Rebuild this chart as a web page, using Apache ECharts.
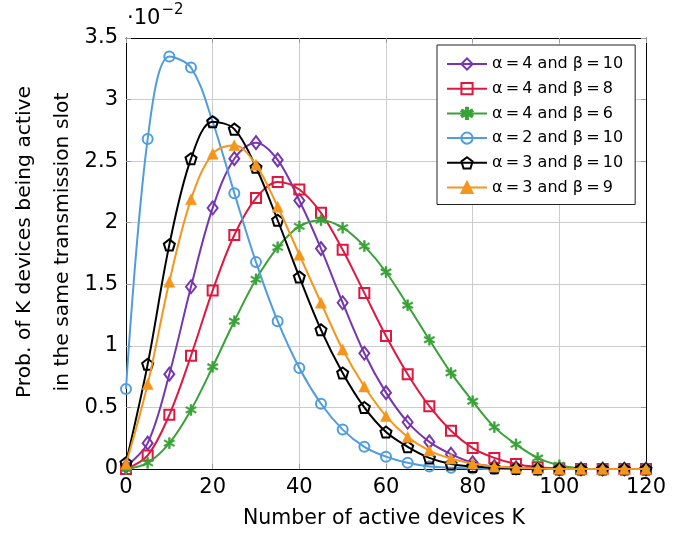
<!DOCTYPE html>
<html>
<head>
<meta charset="utf-8">
<script src="https://cdn.jsdelivr.net/npm/echarts@6/dist/echarts.min.js"></script>
<style>html,body{margin:0;padding:0;background:#fff;}#c{width:686px;height:533px;}</style>
</head>
<body>
<div id="c"></div>
<script>
// ---- data (values in units of 1e-2) ----
var kValues = [0,5,10,15,20,25,30,35,40,45,50,55,60,65,70,75,80,85,90,95,100,105,110,115,120];
var xTicks = [0,20,40,60,80,100,120];
var yTicks = [0,0.5,1,1.5,2,2.5,3,3.5];
var seriesNames = ['α\u2009=\u20094 and β\u2009=\u200910','α\u2009=\u20094 and β\u2009=\u20098','α\u2009=\u20094 and β\u2009=\u20096','α\u2009=\u20092 and β\u2009=\u200910','α\u2009=\u20093 and β\u2009=\u200910','α\u2009=\u20093 and β\u2009=\u20099'];
var a4b10 = [0.02,0.21,0.77,1.48,2.12,2.52,2.65,2.51,2.18,1.79,1.35,0.94,0.62,0.38,0.22,0.12,0.05,0.02,0.01,0.005,0,0,0,0,0];
var a4b8  = [0.0,0.11,0.44,0.92,1.45,1.90,2.20,2.33,2.27,2.08,1.78,1.43,1.08,0.77,0.51,0.31,0.17,0.09,0.04,0.015,0.005,0,0,0,0];
var a4b6  = [0.0,0.05,0.21,0.48,0.83,1.20,1.54,1.80,1.97,2.02,1.96,1.81,1.60,1.33,1.05,0.78,0.55,0.34,0.20,0.09,0.03,0.005,0,0,0];
var a2b10 = [0.65,2.68,3.35,3.26,2.82,2.24,1.68,1.20,0.82,0.53,0.32,0.18,0.10,0.05,0.02,0.01,0.005,0,0,0,0,0,0,0,0];
var a3b10 = [0.05,0.85,1.82,2.52,2.82,2.76,2.45,2.02,1.56,1.13,0.78,0.50,0.30,0.18,0.09,0.04,0.02,0.01,0.005,0,0,0,0,0,0];
var a3b9  = [0.04,0.69,1.52,2.19,2.56,2.63,2.47,2.13,1.74,1.35,0.97,0.67,0.43,0.26,0.15,0.085,0.045,0.02,0.01,0.005,0,0,0,0,0];

var allValues = [a4b10,a4b8,a4b6,a2b10,a3b10,a3b9];
var colors = ['#7636b0','#e0173f','#38a236','#4f9ddf','#000000','#f5961c'];
var pentagon = 'path://M0,-1 L0.951,-0.309 L0.588,0.809 L-0.588,0.809 L-0.951,-0.309 Z';
var asterisk = 'path://M-0.16,-1 L0.16,-1 L0.16,1 L-0.16,1 Z ' +
  'M-0.941,-0.37 L-0.791,-0.63 L0.941,0.37 L0.791,0.63 Z ' +
  'M0.791,-0.63 L0.941,-0.37 L-0.791,0.63 L-0.941,0.37 Z';
var symbols = ['diamond','rect','asterisk','circle',pentagon,'triangle'];
var sizes = [[10,13],10,11,10,11,11];

var chart = echarts.init(document.getElementById('c'), null, {renderer:'canvas'});
var FONT = 'DejaVu Sans';

var series = allValues.map(function(vals, i){
  var hollow = (i === 0 || i === 1 || i === 3 || i === 4);
  var sym = symbols[i] === 'asterisk' ? asterisk : symbols[i];
  return {
    name: seriesNames[i],
    type: 'line',
    data: kValues.map(function(k, j){ return [k, vals[j]]; }),
    smooth: 0.35,
    clip: false,
    symbol: sym,
    symbolSize: sizes[i],
    showAllSymbol: true,
    lineStyle: {color: colors[i], width: 2},
    itemStyle: hollow ? {color: 'rgba(255,255,255,0)', borderColor: colors[i], borderWidth: 2}
                      : {color: colors[i], borderColor: colors[i], borderWidth: 0.5},
    emphasis: {disabled: true},
    z: 2 + i
  };
});

var axisCommon = {
  axisLine: {show: true, onZero: false, lineStyle: {color: '#000', width: 1}},
  axisTick: {show: true, inside: true, length: 5, lineStyle: {color: '#999'}},
  splitLine: {show: true, lineStyle: {color: '#cccccc', width: 1}}
};

var option = {
  animation: false,
  backgroundColor: '#fff',
  textStyle: {fontFamily: FONT},
  grid: {left: 126, right: 40, top: 38, bottom: 64, containLabel: false},
  xAxis: [
    Object.assign({type: 'value', min: xTicks[0], max: xTicks[xTicks.length-1], interval: 20, position: 'bottom',
      axisLabel: {fontFamily: FONT, fontSize: 21, color: '#000', margin: 8}}, axisCommon),
    Object.assign({type: 'value', min: xTicks[0], max: xTicks[xTicks.length-1], interval: 20, position: 'top',
      axisLabel: {show: false}}, axisCommon, {splitLine: {show: false}})
  ],
  yAxis: [
    Object.assign({type: 'value', min: yTicks[0], max: yTicks[yTicks.length-1], interval: 0.5, position: 'left',
      axisLabel: {fontFamily: FONT, fontSize: 21, color: '#000', margin: 8}}, axisCommon),
    Object.assign({type: 'value', min: yTicks[0], max: yTicks[yTicks.length-1], interval: 0.5, position: 'right',
      axisLabel: {show: false}}, axisCommon, {splitLine: {show: false}})
  ],
  legend: {
    orient: 'vertical',
    left: 437, top: 45,
    padding: [11, 12, 9, 9],
    itemGap: 8.7,
    itemWidth: 40, itemHeight: 14,
    backgroundColor: '#fff',
    borderColor: '#222', borderWidth: 1, borderRadius: 0,
    textStyle: {fontFamily: FONT, fontSize: 16, color: '#000'},
    data: seriesNames
  },
  graphic: [
    {type: 'text', left: 127, top: 3, z: 100,
      style: {text: '{a|·10}{b|−2}', rich: {
        a: {fontFamily: FONT, fontSize: 21, fill: '#000', verticalAlign: 'bottom', lineHeight: 26},
        b: {fontFamily: FONT, fontSize: 15, fill: '#000', verticalAlign: 'top', padding: [0,0,10,1]}
      }}},
    {type: 'text', x: 44, y: 242, rotation: Math.PI/2, z: 100,
      style: {text: 'Prob. of K devices being active\nin the same transmission slot',
        fontFamily: FONT, fontSize: 20.3, fill: '#000', align: 'center', verticalAlign: 'middle', lineHeight: 38}},
    {type: 'text', x: 384, y: 519, z: 100,
      style: {text: 'Number of active devices K', fontFamily: FONT, fontSize: 20.5, fill: '#000',
        align: 'center', verticalAlign: 'middle'}}
  ],
  series: series
};
chart.setOption(option);
</script>
</body>
</html>
